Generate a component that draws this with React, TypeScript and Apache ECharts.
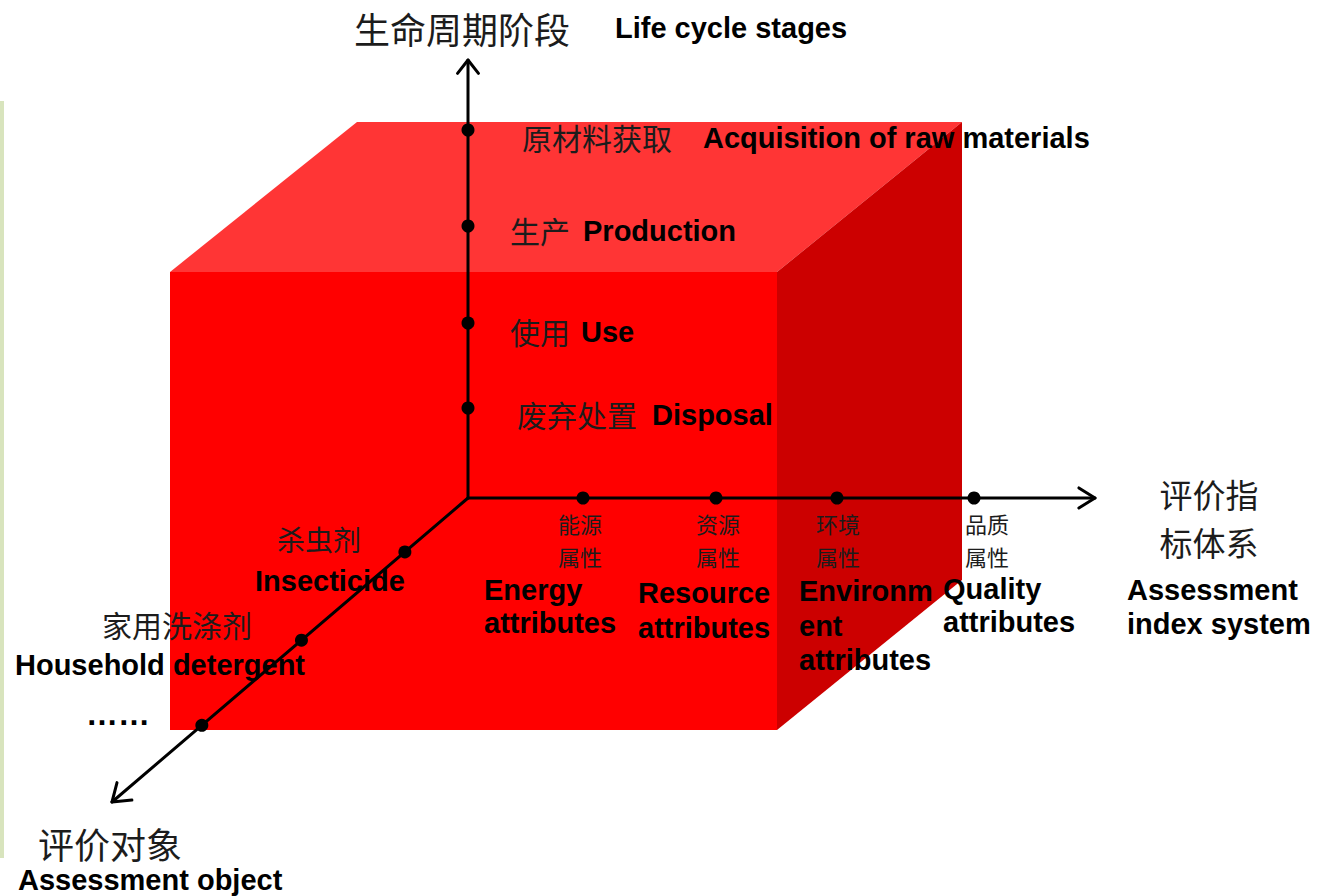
import React, { useEffect, useRef } from "react";
import * as echarts from "echarts";

const W = 1317;
const H = 896;

// ---- Diagram content (labels and their positions along each axis) ----
const titleZh = "生命周期阶段";
const titleEn = "Life cycle stages";
const stageLabelsZh = ["原材料获取", "生产", "使用", "废弃处置"];
const stageLabelsEn = ["Acquisition of raw materials", "Production", "Use", "Disposal"];
const stageHeights = [368, 272, 175, 90]; // distance above origin on vertical axis

const indexTitleZh = "评价指\n标体系";
const indexTitleEn = "Assessment\nindex system";
const indexLabelsZh = ["能源\n属性", "资源\n属性", "环境\n属性", "品质\n属性"];
const indexLabelsEn = ["Energy\nattributes", "Resource\nattributes", "Environm\nent\nattributes", "Quality\nattributes"];
const indexOffsets = [115, 248, 369, 506]; // distance right of origin on horizontal axis

const objectTitleZh = "评价对象";
const objectTitleEn = "Assessment object";
const objectLabelsZh = ["杀虫剂", "家用洗涤剂"];
const objectLabelsEn = ["Insecticide", "Household detergent"];
const objectDistances = [83, 219, 350]; // distance along the diagonal axis
const moreLabel = "……";

// ---- Layout (pixel space of a hidden value grid) ----
const ORIGIN = [468, 498];
const V_TIP = [468, 60];
const H_TIP = [1095, 498];
const D_TIP = [112, 802];

const FRONT = [[170, 272], [777, 272], [777, 730], [170, 730]];
const TOP = [[170, 272], [357, 122], [962, 122], [777, 272]];
const RIGHT = [[777, 272], [962, 122], [962, 580], [777, 730]];

const ZH_FONT = '"Noto Sans CJK SC", "Noto Sans CJK JP", sans-serif';
const EN_FONT = '"Liberation Sans", Arial, sans-serif';
const EN_SIZE = 29;

function diagDir() {
  const dx = D_TIP[0] - ORIGIN[0];
  const dy = D_TIP[1] - ORIGIN[1];
  const len = Math.sqrt(dx * dx + dy * dy);
  return [dx / len, dy / len];
}

function arrowArms(tip: number[], from: number[], len: number, angDeg: number) {
  const dx = from[0] - tip[0];
  const dy = from[1] - tip[1];
  const l = Math.sqrt(dx * dx + dy * dy);
  const ux = dx / l;
  const uy = dy / l;
  const a = (angDeg * Math.PI) / 180;
  const c = Math.cos(a);
  const s = Math.sin(a);
  const p1 = [tip[0] + len * (ux * c - uy * s), tip[1] + len * (ux * s + uy * c)];
  const p2 = [tip[0] + len * (ux * c + uy * s), tip[1] + len * (-ux * s + uy * c)];
  return [p1, tip, p2];
}

function zhText(text: string, x: number, y: number, size: number, align = "center", lineHeight?: number, vAlign = "middle") {
  return {
    type: "text",
    z: 100,
    x,
    y,
    style: {
      text,
      fontFamily: ZH_FONT,
      fontSize: size,
      fontWeight: "normal",
      fill: "#1c1c1c",
      align,
      verticalAlign: vAlign,
      lineHeight: lineHeight || size * 1.2,
    },
  };
}

function enText(text: string, x: number, y: number, lineHeight?: number, vAlign = "middle") {
  return {
    type: "text",
    z: 100,
    x,
    y,
    style: {
      text,
      fontFamily: EN_FONT,
      fontSize: EN_SIZE,
      fontWeight: "bold",
      fill: "#000",
      align: "left",
      verticalAlign: vAlign,
      lineHeight: lineHeight || 34,
    },
  };
}

export default function App() {
  const ref = useRef<HTMLDivElement>(null);

  useEffect(() => {
    document.body.style.margin = "0";
    if (!ref.current) return;
    const chart = echarts.init(ref.current, null, { renderer: "svg" });
    const dir = diagDir();

    const dots: number[][] = [];
    stageHeights.forEach((h) => dots.push([ORIGIN[0], ORIGIN[1] - h]));
    indexOffsets.forEach((d) => dots.push([ORIGIN[0] + d, ORIGIN[1]]));
    objectDistances.forEach((t) => dots.push([ORIGIN[0] + t * dir[0], ORIGIN[1] + t * dir[1]]));

    const lineStyle = {
      stroke: "#000",
      lineWidth: 3,
      fill: null,
      lineJoin: "round",
      lineCap: "round",
    };

    const stageZhX = [597, 540, 540, 577];
    const stageEnX = [703, 583, 581, 652];
    const stageY = [137, 230, 331, 414];

    const idxZhX = [580, 718, 838, 987];
    const idxEnX = [484, 638, 799, 943];
    const idxEnTop = [573, 575, 574, 572];
    const idxEnLH = [33, 35, 34.5, 33];

    const objZhX = [319, 177];
    const objZhY = [539, 624];
    const objEnX = [255, 15];
    const objEnY = [581, 665];

    const graphics: any[] = [
      { type: "rect", z: 0, shape: { x: 0, y: 101, width: 4, height: 757 }, style: { fill: "#d8e4bd" } },
      zhText(titleZh, 462, 28, 36),
      enText(titleEn, 615, 28),
      zhText(indexTitleZh, 1209, 470, 33, "center", 48, "top"),
      enText(indexTitleEn, 1127, 573, 34, "top"),
      zhText(objectTitleZh, 110, 843, 36),
      enText(objectTitleEn, 18, 880),
      {
        type: "text",
        z: 100,
        x: 86,
        y: 714,
        style: { text: moreLabel, fontFamily: EN_FONT, fontSize: 32, fontWeight: "bold", fill: "#000", align: "left", verticalAlign: "middle" },
      },
    ];
    stageLabelsZh.forEach((t, i) => graphics.push(zhText(t, stageZhX[i], stageY[i], 30)));
    stageLabelsEn.forEach((t, i) => graphics.push(enText(t, stageEnX[i], stageY[i] + 1)));
    indexLabelsZh.forEach((t, i) => graphics.push(zhText(t, idxZhX[i], 507, 22, "center", 32.5, "top")));
    indexLabelsEn.forEach((t, i) => graphics.push(enText(t, idxEnX[i], idxEnTop[i], idxEnLH[i], "top")));
    objectLabelsZh.forEach((t, i) => graphics.push(zhText(t, objZhX[i], objZhY[i], i === 0 ? 28 : 30)));
    objectLabelsEn.forEach((t, i) => graphics.push(enText(t, objEnX[i], objEnY[i])));

    chart.setOption({
      animation: false,
      backgroundColor: "#ffffff",
      grid: { left: 0, right: 0, top: 0, bottom: 0 },
      xAxis: { type: "value", min: 0, max: W, show: false },
      yAxis: { type: "value", min: 0, max: H, inverse: true, show: false },
      series: [
        {
          type: "custom",
          z: 1,
          clip: false,
          silent: true,
          data: [[0, 0]],
          renderItem: (_p: any, api: any) => {
            const poly = (pts: number[][], fill: string) => ({
              type: "polygon",
              shape: { points: pts.map((p) => api.coord(p)) },
              style: { fill },
            });
            return {
              type: "group",
              children: [poly(TOP, "#ff3535"), poly(RIGHT, "#cc0000"), poly(FRONT, "#ff0000")],
            };
          },
        },
        {
          type: "custom",
          z: 2,
          clip: false,
          silent: true,
          data: [[0, 0]],
          renderItem: (_p: any, api: any) => {
            const pl = (pts: number[][]) => ({
              type: "polyline",
              shape: { points: pts.map((p) => api.coord(p)) },
              style: lineStyle,
            });
            return {
              type: "group",
              children: [
                pl([ORIGIN, V_TIP]),
                pl([ORIGIN, H_TIP]),
                pl([ORIGIN, D_TIP]),
                pl(arrowArms(V_TIP, ORIGIN, 17, 38)),
                pl(arrowArms(H_TIP, ORIGIN, 19, 32)),
                pl(arrowArms(D_TIP, ORIGIN, 20, 35)),
              ],
            };
          },
        },
        {
          type: "scatter",
          z: 3,
          silent: true,
          symbol: "circle",
          symbolSize: 13,
          itemStyle: { color: "#000", opacity: 1 },
          data: dots,
        },
      ],
      graphic: graphics,
    });

    return () => chart.dispose();
  }, []);

  return <div ref={ref} style={{ position: "absolute", left: 0, top: 0, width: W, height: H }} />;
}
